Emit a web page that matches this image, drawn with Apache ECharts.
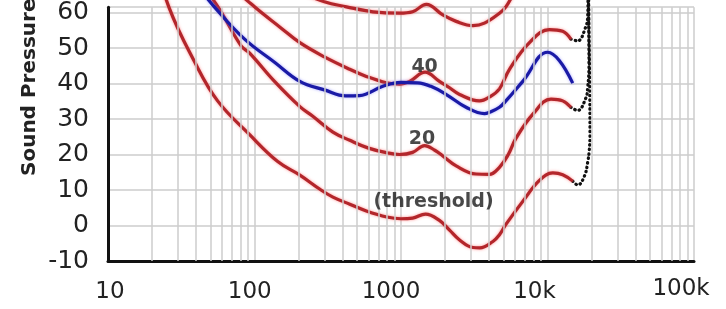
<!DOCTYPE html>
<html><head><meta charset="utf-8">
<script src="https://cdn.jsdelivr.net/npm/echarts@6/dist/echarts.min.js"></script>
<style>html,body{margin:0;padding:0;background:#fff}#c{width:726px;height:309px}</style>
</head><body><div id="c"></div>
<script>
// ---- data (frequency in Hz, level in dB SPL) ----
const xTickLabels = ['10', '100', '1000', '10k', '100k'];
const minorGridFreqs = [20,30,40,50,60,70,80,90, 200,300,400,500,600,700,800,900,
  2000,3000,4000,5000,6000,7000,8000,9000, 20000,30000,40000,50000,60000,70000,80000,90000];

const thresholdFreq = [20, 26, 39, 56, 93, 144, 204, 280, 343, 447, 580, 800, 1000, 1200, 1470, 1820, 2145, 2500, 3100, 3450, 4240, 4700, 5200, 6780, 8810, 10870, 12700, 14860];
const thresholdDb   = [78, 61.6, 46.1, 35.1, 25.5, 18, 14.2, 10.2, 8, 6, 4.1, 2.4, 1.9, 2.1, 3.2, 1.5, -1.3, -4, -6.2, -6.3, -4.5, -2.6, 0.3, 6.8, 12.7, 14.8, 14.3, 12.5];

const phon20Freq = [30, 40, 56.3, 81, 93, 137, 204, 250, 343, 447, 600, 800, 977, 1200, 1450, 1700, 1930, 2380, 3250, 4000, 4700, 5400, 6100, 8000, 10560, 12700, 14430];
const phon20Db   = [78, 70, 61.6, 50.6, 48.5, 40.6, 33.5, 30.8, 26.3, 24, 21.8, 20.5, 20, 20.6, 22.5, 21.2, 19.6, 16.8, 14.5, 14.4, 16.4, 20, 24.6, 31.5, 35.6, 35.1, 33.3];

const phon40Freq = [50, 70, 100, 150, 204, 300, 447, 580, 794, 977, 1146, 1460, 1830, 2145, 2510, 3430, 4020, 4700, 5500, 7530, 10300, 12700, 14430];
const phon40Db   = [75, 67.5, 61.6, 55.8, 51.5, 47.5, 44, 42, 40.2, 39.8, 40.6, 43.2, 40.6, 38.8, 36.9, 35.1, 36.2, 38.5, 44, 51.5, 55.2, 54.7, 52.5];

const phon60Freq = [100, 200, 300, 424, 643, 977, 1200, 1490, 1930, 2380, 3100, 3710, 4700, 5200, 6500, 10000, 12500, 14500];
const phon60Db   = [72, 66, 63, 61.6, 60.2, 59.8, 60.2, 62.3, 59.3, 57.5, 56.3, 57, 59.8, 61.6, 68, 75, 74, 72];

const blue40Freq = [40, 53.2, 85.6, 137, 204, 300, 420, 520, 752, 1000, 1300, 1600, 2040, 2780, 3710, 4020, 4700, 5200, 6780, 10030, 12030, 14860];
const blue40Db   = [68, 61.6, 52.5, 46, 40.6, 38.2, 36.5, 36.6, 39.2, 40.3, 40.2, 39.2, 36.9, 33.3, 31.5, 31.9, 33.3, 35.1, 40.6, 48.8, 46.5, 40.1];

const thresholdExtFreq = [14860, 16100, 17900, 18800, 19300, 19500, 19400, 19200, 19000];
const thresholdExtDb   = [12.5, 11.4, 14, 17.8, 21.4, 26, 40, 55, 70];
const phon20ExtFreq = [14430, 16070, 18300, 18800, 19200, 19100, 19000];
const phon20ExtDb   = [33.3, 32.4, 36, 38.8, 45, 58, 70];
const phon40ExtFreq = [14430, 16070, 18300, 18800, 18900, 18800];
const phon40ExtDb   = [52.5, 52, 56.1, 58.8, 64, 72];
const phon60ExtFreq = [14500, 16100, 18300, 18800];
const phon60ExtDb   = [72, 71.5, 75, 80];

const annotationText = ['40', '20', '(threshold)'];
const annotationFreq = [1449, 1393, 1667];
const annotationDb   = [44.7, 24.3, 6.7];

// ---- build ----
const pairs = (f, d) => f.map((v, i) => [v, d[i]]);
const RED = '#b3262b', BLUE = '#1a1aa6';
const redStyle = { color: RED, width: 3.2, shadowColor: 'rgba(255,110,110,0.75)', shadowBlur: 3 };
const blueStyle = { color: BLUE, width: 3.2, shadowColor: 'rgba(110,110,255,0.6)', shadowBlur: 3 };
const dotStyle = { color: '#111', width: 3.2, type: [0.5, 4], cap: 'round' };

function curve(name, data, style, z) {
  return { name, type: 'line', data, smooth: 0.4, showSymbol: false, symbol: 'none',
    lineStyle: style, z: z || 3, clip: false, silent: true };
}

const labelOffsets = [2, -4.7, -10, -13, -13];
const rich = {};
xTickLabels.forEach((t, i) => {
  const o = labelOffsets[i];
  rich['l' + i] = {
    fontSize: 23, color: '#222', fontFamily: 'DejaVu Sans',
    padding: [i === 4 ? 0 : 3, o < 0 ? -2 * o : 0, 0, o > 0 ? 2 * o : 0]
  };
});
const tickValues = [10, 100, 1000, 10000, 100000];

const chart = echarts.init(document.getElementById('c'), null, { renderer: 'canvas' });
chart.setOption({
  animation: false,
  backgroundColor: '#ffffff',
  grid: { left: 108, right: 32, top: 0, bottom: 48 },
  xAxis: {
    type: 'log', logBase: 10, min: 10, max: 100000,
    axisLine: { show: true, onZero: false, lineStyle: { color: '#111', width: 3 } },
    axisTick: { show: false },
    splitLine: { show: true, lineStyle: { color: '#cccccc', width: 1.5 } },
    axisLabel: {
      margin: 17,
      formatter: function (v) {
        const i = tickValues.findIndex(t => Math.abs(t - v) / t < 1e-6);
        return i < 0 ? '' : '{l' + i + '|' + xTickLabels[i] + '}';
      },
      rich: rich
    }
  },
  yAxis: {
    type: 'value', min: -10, max: 61.5, interval: 10,
    axisLine: { show: true, onZero: false, lineStyle: { color: '#111', width: 3 } },
    axisTick: { show: false },
    splitLine: { show: true, lineStyle: { color: '#cccccc', width: 1.5 } },
    axisLabel: { margin: 19, fontSize: 25, color: '#222', fontFamily: 'DejaVu Sans',
      formatter: v => (Math.abs(v % 10) < 1e-6 ? String(v) : '') }
  },
  graphic: [{
    type: 'text', x: 30, y: 176, rotation: Math.PI / 2, silent: true,
    style: { text: 'Sound Pressure Level (dB SPL)', font: 'bold 20px "DejaVu Sans"', fill: '#222',
      textAlign: 'left', textVerticalAlign: 'middle' }
  }],
  series: [
    { type: 'line', data: [], silent: true, z: 1,
      markLine: { silent: true, symbol: ['none', 'none'], label: { show: false }, animation: false,
        lineStyle: { color: '#cccccc', width: 1.5, type: 'solid' },
        emphasis: { disabled: true },
        data: minorGridFreqs.map(f => ({ xAxis: f })) } },
    curve('threshold-ext', pairs(thresholdExtFreq, thresholdExtDb), dotStyle, 2),
    curve('20-ext', pairs(phon20ExtFreq, phon20ExtDb), dotStyle, 2),
    curve('40-ext', pairs(phon40ExtFreq, phon40ExtDb), dotStyle, 2),
    curve('60-ext', pairs(phon60ExtFreq, phon60ExtDb), dotStyle, 2),
    curve('threshold', pairs(thresholdFreq, thresholdDb), redStyle),
    curve('20 phon', pairs(phon20Freq, phon20Db), redStyle),
    curve('40 phon', pairs(phon40Freq, phon40Db), redStyle),
    curve('60 phon', pairs(phon60Freq, phon60Db), redStyle),
    curve('40 phon (original)', pairs(blue40Freq, blue40Db), blueStyle, 4),
    { type: 'scatter', symbolSize: 0, z: 6, silent: true,
      data: annotationText.map((t, i) => ({ value: [annotationFreq[i], annotationDb[i]], name: t })),
      label: { show: true, position: 'inside', formatter: p => p.name,
        fontFamily: 'DejaVu Sans', fontWeight: 'bold', fontSize: 19, color: '#1a1a1a' } }
  ]
});
</script>
</body></html>
